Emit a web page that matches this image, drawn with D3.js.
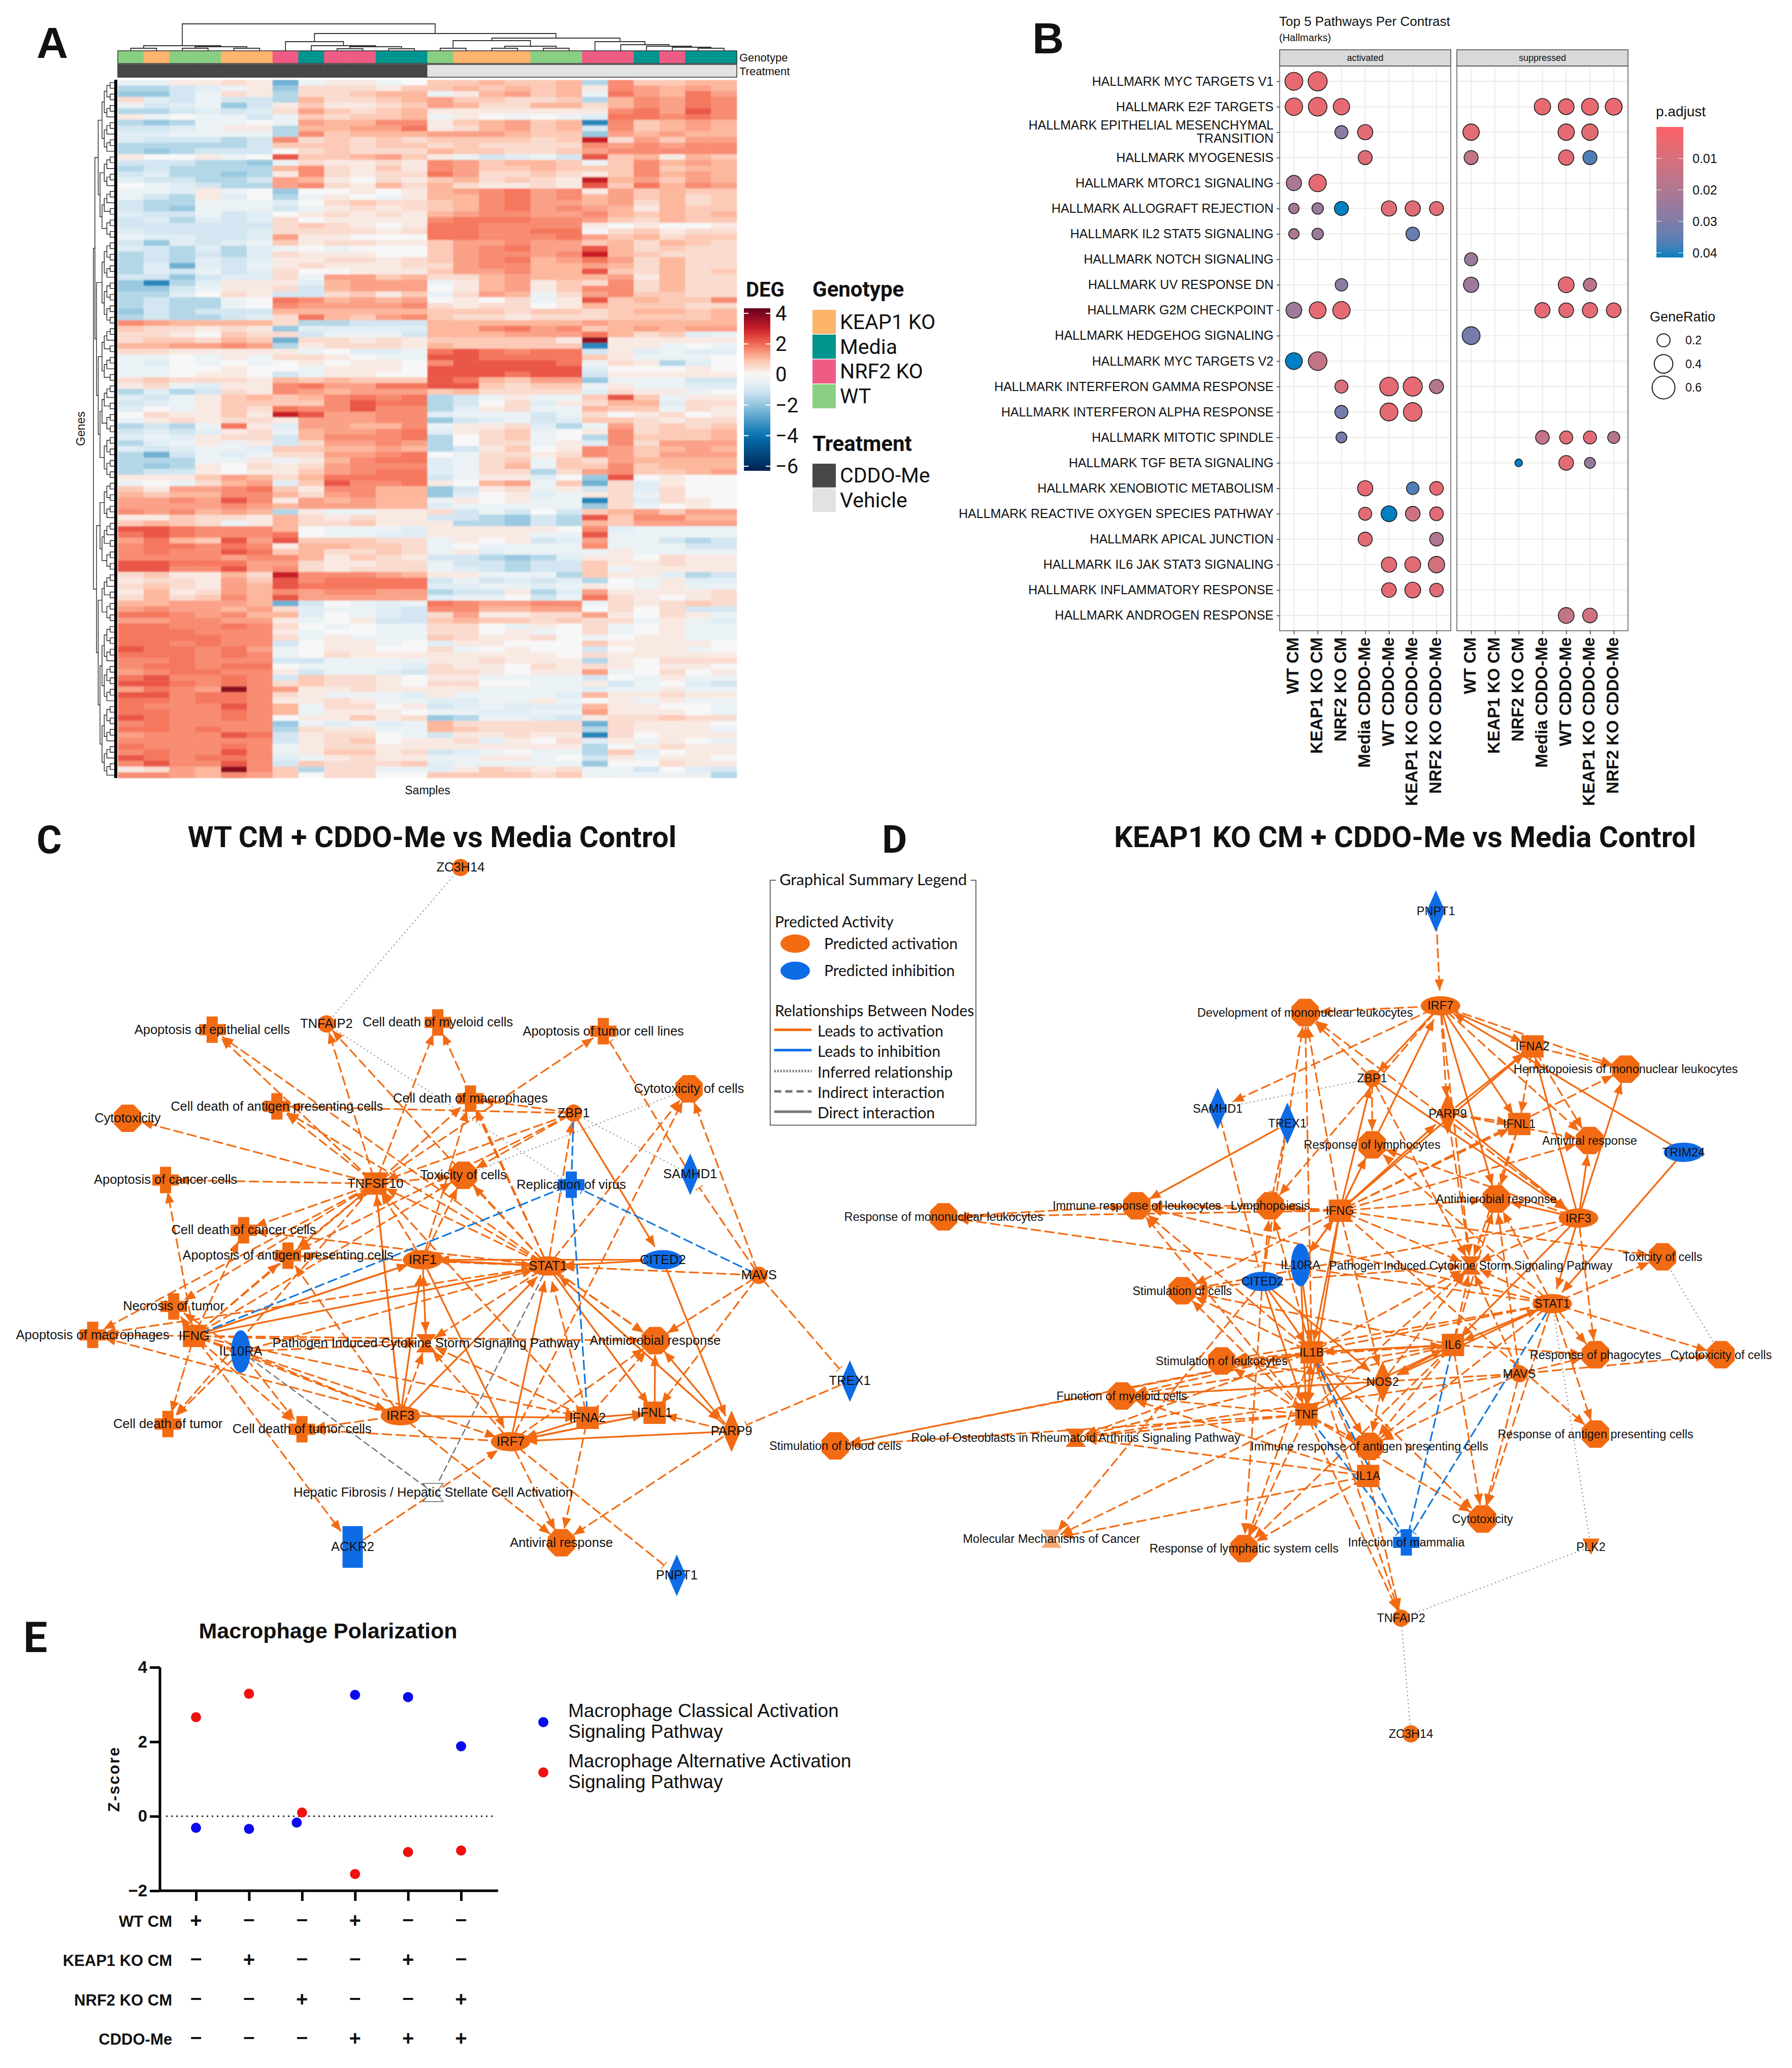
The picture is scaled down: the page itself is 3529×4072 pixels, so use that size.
<!DOCTYPE html>
<html><head><meta charset="utf-8">
<script src="https://cdnjs.cloudflare.com/ajax/libs/d3/7.8.5/d3.min.js"></script>
<style>html,body{margin:0;padding:0;background:#fff}svg{display:block}text{font-family:"Liberation Sans",Arial,sans-serif;fill:#111}</style>
</head><body><svg id="c" width="3529" height="4072" viewBox="0 0 3529 4072"></svg>
<script>
// ---------- PANEL A data ----------
const genotypeNames=["KEAP1 KO","Media","NRF2 KO","WT"];
const genotypeColors=["#FDB46B","#00948F","#EE5C85","#88CF84"];
const treatmentNames=["CDDO-Me","Vehicle"];
const treatmentColors=["#474747","#E2E2E2"];
const sampleGenotype=["WT","KEAP1 KO","WT","WT","KEAP1 KO","KEAP1 KO","NRF2 KO","Media","NRF2 KO","NRF2 KO","Media","Media","WT","KEAP1 KO","KEAP1 KO","KEAP1 KO","WT","WT","NRF2 KO","NRF2 KO","Media","NRF2 KO","Media","Media"];
const sampleTreatment=d3.range(24).map(i=>i<12?"CDDO-Me":"Vehicle");
// expression level codes, one letter per sample
const levelCodes="abcdefghijklmnopqrs".split("");
const levelValues=[-5,-3.5,-2.5,-1.9,-1.5,-1.05,-.7,-.35,0,.25,.5,.8,1.1,1.35,1.6,1.85,2.25,3,3.8];
const heatRows=[
"hhjjkj c hjjhi llmllm e ollmm","eefghj d kkkjl lmlmlm j onmnm","ddfhkj e kklmm hjmnlm h pnmpn","kgfhff e mkklm nllkkl e monpo",
"hfghdf j ljjkl nmkkmm k monpo","eefgfg k nlklm jjjjjj j opnqo","jhihhf h lkllm hjihih g ppopo","edehhi h nmmoo jlmnlm b olmnm",
"ffghjj e mmnnp jkmnlm f olmnm","gghhhh e olmmm nnnmll d nmnmm","gfffef o klklk llllkl r knlnn","eeeeef l llkll klkkkk o nonoo",
"edefff i klkkk mllkkl n ooooo","jiijhi q llmnl jhfghf q lmjml","fffeed h kjjkj onlmml h lomnm","efeeee m okjlj onllml l lolmm",
"fgeede j okjkk pnkklk j lomnm","gffeef n mjikj lmklkj r mnlnm","ihgfee n okjmk mkjjkj q lpmon","hhgjhi d iijij mnopno j nlmll",
"hfejgi e hjihj mmopno m nlmkl","feehhh g iklkk lmopnn m nkmkl","fedhhh f hjkjk lmopno n mjmll","gffhfg i jkjkj mnoonn o mlmlm",
"fgegfg k ijjjj opppoo n lkmll","ffffff k lkjij ppoooo j ijiij","gffffg k kkkjk ppoopp i kljkk","hggffg n jjiii ppooop n lmkll",
"fdgfgh l jkkjj lnnonn l mkmlk","gfegeg h ihiii lnopnn q mklkk","efefeg k jjjii lnoono r mlkkk",
"efegfg j jkkjk lnopmn p nkmkk","egcgfh j kjjjk knoomm n mkmkk","egfhfg k iijjj lnnomm q lkmkl","ffdfgg k hnnlm kkmnmm m njmkk",
"dbegjj j gmnnn hjmnjl k okmkk","ddfhjj k fmnnn ijmnjl o okmkk","eegikj f fkljl hknmhk n ollkk","efeehi p omnmn ijikhj q lmllo",
"efeehi o nnnno kjkkij m lllkk","dfefff m mmmmm lllkll k lmmlm","efeefg k pmlno lkkjkk k lllIm".replace("I","l"),"onmmmm k eefff mmmmmm n mmmmm",
"lkkjkj d ggggg mmopno l mnmnn","kkjilk k fhhhf mmmnnn p mklgh","kllkml c kkjkj llllIj s jjjjj".replace("I","l"),"mmnnon e jkkkj mlllll b jjhih",
"kkjjjj j higgh pqpopp f jghgg","hhihjh k kjihh qqpppp l jhhhi","hgihih i jijji oqqqqp h kjegi","hhiiji i hjjji qqqqqq g iiiji",
"hhijji f hjjii qqqpqq f jjjjj","klkkkj m lmlll qpmlnn d hhhff","jkhgjj o pnnpp qqlkll h jhhgg","egefkj o nmnnn lmkkkk g kjjhi",
"gfhjlm l mopop efhjhh l qlhjj","fghjll l loqpp efikgj k mmgkk","gihjlk p ooqoo egjkhh m llhkj","ikjjlj r qnnoo ghhhfh k ijkij",
"hjkjkk j nnnoo dfghfg l lkjkk","efehpj g nnmmo hjjkge h nklkl","fgfgjk h mnnop gjklhi j okllm","ghgjkk f mooop eiklhi e olllm",
"eghjhj f knnon eikkhj g oknnn","gfghhg l lmmnm efjlij o nlmnm","ecfhgh k knnop ihkkjk o nlnnn","eeehhj h jmopp ghklhl k nmmmm",
"edejik j knooo ghkmhl l olmmm","effjij j lnopp ghkkek n ollmn","jjjlnm k mpppp fhjjgi d qijii","hihkmn g lqoop jimnhl c kgjii",
"ljnnop l joomm dfjkhj f kgkii","mlmmoo m knomm dgijgh j khkii","nnonqo j nmnmm hjijhh b kgkji","nnnnon m nnnmm ghhhhh d khiji",
"onomnm e jhhjj kfhfif l mnlnn","jjlkkj m kjkjj ffedfe q loomm","lmlkhj m kkljj jeedfe m lnnnn","qqpooo m ihhhg jjjjji o ghhhh",
"pqpooo p ihhgg jjjjhh q hhhhh","npmlqn q lllkk hjijfg n hhfef","oppopo j mmllk hihhhh o hhhff","opooqp l mkklk hjghhh h jhhhh",
"oooono o mjlkj ffedeg j jikjj","qqpppn n kjjkk hffeff l jjkjj","qqooqn o kjkkk hgfeff l hjjjj","kljjmk r ooonm jjhhhe l jjgef",
"jkkjnl q opppp fhfgfg e ihjgg","klkjnm q ppppp gghhgh j ihjhh","jmjknm o noonn effjeg n jjjjk","kmklom q nnnnn ghhifh p kjijk",
"mmnnnm c fihgh ponnoo h kjklk","nonnmn k ghhgf oommnn i kikff","pponom m gihgf knjjkk n jikjh","nnoonn j hijff lmllkl k khjhg",
"ppoopo k ihihh kkihji k hijhh","pppooo j hiihh kkijhi k hijhh","ppppoo k hjhhh lkjjki h ijjhh","ppopoo f ijjhi gjjiii l jjjji",
"qppopn h ijjii khijii f ijjhi","pppopo h ikjjj jjjjji k jjjjj","oopooo f fhhhh jjkjjj e jikkk","oppopp i hhhhg kjjikj k jijji",
"noppoo j fhhgf kkjijj n hikij","pqoopo f lkkji jjhhhh f ihjhh","qqpopo k lkkji kkiihh j fhigf","nponso n jjkjj jjhhhh g hhjhh",
"qqoppo k jhhhg jhhhhg m jjkjj","ppoppo j jkjhh gghhjh i jhjhh","poooqo m hkkij fghggg m jjiih","ppoopo m hjjji hhgghh n jjjih",
"qpoopo i jjljk dehhgf j kklkk","opoooo d hghgh mkkkkk c kjjji","ppopoo e kjjhh mlkkkk e kjjjh","noooqp f jkkih fjjkjj b kijjj",
"oooooo f jklij jkgjik g jhjih","pooopo h jkkjj jjjjjj e ijkjj","opooqo h jlljk fghihh e lgijj","qpoppo g hjkjj hhjjhi f jhjji",
"oqooqo f lkkkl ghhhhh d iikjj","jknmso l ekkhh gjlkjk h hfigf","oonmon l ikkii llllkl h hhhhe"
].map(r=>r.replace(/\s/g,""));
const legendTicks=[4,2,0,-2,-4,-6];
const colTree=[53,[10,[5,0,1],[8,[5,2,3],[5,4,5]]],[34,[18,6,[10,7,[8,[4,8,9],[4,10,11]]]],[25,[20,[5,12,13],[9,[5,14,15],[5,16,17]]],[18,18,[12,19,[9,20,[7,21,[5,22,23]]]]]]]];
const rowClusters=[[[[[0,7],[7,13]],[[13,19],[19,28]]],[[[28,35],[35,43]],[[43,53],[53,70]]]],[[[70,77],[77,86]],[[86,95],[95,122]]]];

// ---------- PANEL B data ----------
const pathways=["HALLMARK MYC TARGETS V1","HALLMARK E2F TARGETS","HALLMARK EPITHELIAL MESENCHYMAL\nTRANSITION","HALLMARK MYOGENESIS","HALLMARK MTORC1 SIGNALING","HALLMARK ALLOGRAFT REJECTION","HALLMARK IL2 STAT5 SIGNALING","HALLMARK NOTCH SIGNALING","HALLMARK UV RESPONSE DN","HALLMARK G2M CHECKPOINT","HALLMARK HEDGEHOG SIGNALING","HALLMARK MYC TARGETS V2","HALLMARK INTERFERON GAMMA RESPONSE","HALLMARK INTERFERON ALPHA RESPONSE","HALLMARK MITOTIC SPINDLE","HALLMARK TGF BETA SIGNALING","HALLMARK XENOBIOTIC METABOLISM","HALLMARK REACTIVE OXYGEN SPECIES PATHWAY","HALLMARK APICAL JUNCTION","HALLMARK IL6 JAK STAT3 SIGNALING","HALLMARK INFLAMMATORY RESPONSE","HALLMARK ANDROGEN RESPONSE"];
const contrasts=["WT CM","KEAP1 KO CM","NRF2 KO CM","Media CDDO-Me","WT CDDO-Me","KEAP1 KO CDDO-Me","NRF2 KO CDDO-Me"];
const facets=["activated","suppressed"];
// [pathway index, facet index, contrast index, p.adjust, GeneRatio]
const enrichment=[[0,0,0,.005,.37],[0,0,1,.005,.42],
[1,0,0,.005,.35],[1,0,1,.005,.40],[1,0,2,.006,.31],[1,1,3,.005,.31],[1,1,4,.005,.29],[1,1,5,.005,.33],[1,1,6,.005,.33],
[2,0,2,.028,.20],[2,0,3,.007,.27],[2,1,0,.007,.31],[2,1,4,.006,.31],[2,1,5,.007,.31],
[3,0,3,.008,.23],[3,1,0,.015,.23],[3,1,4,.006,.27],[3,1,5,.037,.23],
[4,0,0,.021,.27],[4,0,1,.006,.35],
[5,0,0,.022,.127],[5,0,1,.025,.155],[5,0,2,.043,.23],[5,0,4,.007,.27],[5,0,5,.007,.27],[5,0,6,.007,.23],
[6,0,0,.020,.127],[6,0,1,.024,.155],[6,0,5,.034,.217],
[7,1,0,.024,.20],
[8,0,2,.028,.184],[8,1,0,.024,.27],[8,1,4,.006,.29],[8,1,5,.017,.20],
[9,0,0,.024,.29],[9,0,1,.006,.33],[9,0,2,.006,.35],[9,1,3,.006,.27],[9,1,4,.006,.25],[9,1,5,.006,.27],[9,1,6,.006,.25],
[10,1,0,.032,.37],
[11,0,0,.043,.33],[11,0,1,.015,.40],
[12,0,2,.009,.20],[12,0,4,.006,.40],[12,0,5,.006,.42],[12,0,6,.019,.23],
[13,0,2,.032,.20],[13,0,4,.006,.37],[13,0,5,.006,.40],
[14,0,2,.032,.14],[14,1,3,.015,.217],[14,1,4,.007,.20],[14,1,5,.007,.20],[14,1,6,.019,.17],
[15,1,2,.043,.07],[15,1,4,.007,.25],[15,1,5,.026,.14],
[16,0,3,.006,.27],[16,0,5,.037,.184],[16,0,6,.006,.217],
[17,0,3,.007,.20],[17,0,4,.042,.29],[17,0,5,.012,.25],[17,0,6,.007,.217],
[18,0,3,.007,.23],[18,0,6,.020,.217],
[19,0,4,.007,.27],[19,0,5,.007,.29],[19,0,6,.011,.31],
[20,0,4,.006,.25],[20,0,5,.006,.29],[20,0,6,.007,.217],
[21,1,4,.015,.29],[21,1,5,.012,.25]];
const pTicks=[.01,.02,.03,.04];
const ratioLegend=[.2,.4,.6];

// ---------- PANEL C / D network data (layout units) ----------
const cNodes=[["ZC","ZC3H14",790,106,"c",0],["TNFA","TNFAIP2",560,408,"c",0],["AEp","Apoptosis of epithelial cells",364,419,"x",0],["CDMy","Cell death of myeloid cells",751,405,"x",0],["ATu","Apoptosis of tumor cell lines",1035,422,"x",0],["CyC","Cytotoxicity of cells",1182,533,"o",0],["CDMa","Cell death of macrophages",807,552,"x",0],["ZBP","ZBP1",984,580,"c",0],["CDAg","Cell death of antigen presenting cells",475,567,"x",0],["Cyt","Cytotoxicity",219,590,"o",0],["ACa","Apoptosis of cancer cells",284,709,"x",0],["TNFS","TNFSF10",644,716,"s",0],["Tox","Toxicity of cells",795,700,"o",0],["Rep","Replication of virus",980,718,"x",1],["SAM","SAMHD1",1184,698,"d",1],["CDCa","Cell death of cancer cells",418,806,"x",0],["AAg","Apoptosis of antigen presenting cells",494,855,"x",0],["IRF1","IRF1",725,863,"e",0],["STAT","STAT1",940,875,"e",0],["CIT","CITED2",1137,863,"e",1],["MAVS","MAVS",1302,893,"c",0],["Nec","Necrosis of tumor",298,953,"x",0],["AMa","Apoptosis of macrophages",159,1008,"x",0],["IFNG","IFNG",333,1010,"s",0],["IL10","IL10RA",413,1040,"t",1],["Path","Pathogen Induced Cytokine Storm Signaling Pathway",731,1024,"h",0],["Anti","Antimicrobial response",1124,1019,"o",0],["TREX","TREX1",1458,1097,"d",1],["CDT","Cell death of tumor",288,1180,"x",0],["CDTC","Cell death of tumor cells",518,1190,"x",0],["IRF3","IRF3",687,1164,"e",0],["IFNA","IFNA2",1008,1168,"s",0],["IFNL","IFNL1",1123,1158,"s",0],["IRF7","IRF7",876,1214,"e",0],["PARP","PARP9",1255,1194,"d",0],["Hep","Hepatic Fibrosis / Hepatic Stellate Cell Activation",743,1312,"h",2],["ACK","ACKR2",605,1417,"r",1],["AV","Antiviral response",963,1409,"o",0],["PN","PNPT1",1161,1472,"d",1]];
const cSolid="IFNG>STAT IFNG>IRF1 IFNG>IRF1 IRF1>STAT STAT>IRF1 CIT>IRF1 CIT>STAT IRF3>STAT IRF3>IRF1 IRF3>TNFS IRF1>IRF7 IRF7>STAT IRF3>IFNA IFNA>IRF7 IFNL>IRF7 PARP>IRF7 IFNA>IFNL STAT>PARP ZBP>CIT CIT>PARP STAT>IFNL IRF7>IFNL IFNL>Anti".split(" ");
const cDash="TNFS>AEp TNFS>TNFA TNFS>CDMy TNFS>CDMa TNFS>Cyt TNFS>CDAg TNFS>ACa TNFS>CDCa TNFS>AAg TNFS>ATu TNFS>Tox TNFS>Nec TNFS>AMa TNFS>CDT ZBP>CDMa ZBP>CDAg ZBP>Tox ZBP>TNFS ZBP>AAg STAT>TNFS STAT>CDMy STAT>CDMa STAT>Tox STAT>AEp STAT>CDAg STAT>CDCa STAT>AAg STAT>Path STAT>Anti STAT>Anti STAT>AMa STAT>TNFA STAT>CyC STAT>ZBP STAT>Anti IRF1>TNFS IRF1>Tox IRF1>Path IRF1>CDMa Path>IRF1 IFNG>AMa IFNG>Nec IFNG>ACa IFNG>CDT IFNG>CDCa IFNG>AAg IFNG>Path IFNG>TNFS IFNG>Tox IFNG>CDTC IFNG>Anti IFNG>IRF3 IFNG>IRF7 IFNG>IFNA IL10>IRF3 IL10>CDTC IL10>CDT IL10>Path IL10>Nec IL10>STAT IRF3>TNFS IRF3>Path IRF3>AAg IRF3>AV IRF3>CDTC IRF3>AMa IRF7>Path IRF7>Anti IRF7>AV IRF7>CDTC IRF7>CyC IFNA>Path IFNA>Anti IFNA>STAT IFNA>AV IFNA>TNFS MAVS>STAT MAVS>Anti MAVS>IFNL MAVS>CyC PARP>Anti PARP>AV PARP>STAT Anti>PARP PARP>IFNL ACK>IRF7 IFNG>ACK".split(" ");
const cBar="MAVS>TREX TREX>PARP MAVS>SAM SAM>ATu IRF7>PN".split(" ");
const cBlue="ZBP>Rep IFNG>Rep MAVS>Rep IFNA>Rep".split(" ");
const cGrey="IL10>Hep STAT>Hep".split(" ");
const cDot="ZC-TNFA TNFA-Rep ZBP-SAM Tox-CyC IFNG-CDT".split(" ");

const dNodes=[["PN","PNPT1",1026,160,"d",1],["IRF7","IRF7",1033,314,"e",0],["Dev","Development of mononuclear leukocytes",827,325,"o",0],["IFNA","IFNA2",1173,380,"s",0],["Hem","Hematopoiesis of mononuclear leukocytes",1315,417,"o",0],["ZBP","ZBP1",929,432,"c",0],["SAM","SAMHD1",694,481,"d",1],["PARP","PARP9",1044,489,"d",0],["TREX","TREX1",800,505,"d",1],["IFNL","IFNL1",1153,506,"s",0],["RLy","Response of lymphocytes",929,540,"o",0],["AV","Antiviral response",1260,533,"o",0],["TRIM","TRIM24",1403,552,"e",1],["RMo","Response of mononuclear leukocytes",277,657,"o",0],["IRL","Immune response of leukocytes",571,639,"o",0],["Lym","Lymphopoiesis",774,639,"o",0],["IFNG","IFNG",880,647,"s",0],["Anti","Antimicrobial response",1118,628,"o",0],["IRF3","IRF3",1243,659,"e",0],["IL10","IL10RA",820,735,"t",1],["Path","Pathogen Induced Cytokine Storm Signaling Pathway",1079,736,"h",0],["Tox","Toxicity of cells",1371,722,"o",0],["CIT","CITED2",762,762,"e",1],["SC","Stimulation of cells",640,777,"o",0],["STAT","STAT1",1203,798,"e",0],["IL1B","IL1B",837,877,"s",0],["IL6","IL6",1052,865,"s",0],["SL","Stimulation of leukocytes",700,891,"o",0],["RPh","Response of phagocytes",1269,881,"o",0],["CyC","Cytotoxicity of cells",1460,881,"o",0],["MAVS","MAVS",1153,912,"c",0],["NOS","NOS2",945,925,"d",0],["FM","Function of myeloid cells",548,948,"o",0],["TNF","TNF",829,978,"s",0],["SB","Stimulation of blood cells",112,1029,"o",0],["Oste","Role of Osteoblasts in Rheumatoid Arthritis Signaling Pathway",478,1016,"h",0],["IRA","Immune response of antigen presenting cells",925,1030,"o",0],["RAg","Response of antigen presenting cells",1269,1010,"o",0],["IL1A","IL1A",923,1078,"s",0],["Cyt","Cytotoxicity",1097,1148,"o",0],["Mol","Molecular Mechanisms of Cancer",441,1180,"h",3],["RLs","Response of lymphatic system cells",734,1196,"o",0],["Inf","Infection of mammalia",981,1186,"x",1],["PLK","PLK2",1262,1193,"v",0],["TNFA","TNFAIP2",973,1309,"c",0],["ZC","ZC3H14",988,1497,"c",0]];
const dSolid="IRF7>IFNL IRF7>Anti IRF7>ZBP IRF7>IFNA TRIM>IRF7 TRIM>STAT IRF3>Hem IRF3>IFNA IRF3>Anti IRF3>AV IRF3>STAT IRF3>IL6 IFNG>IRF7 TREX>IRL IL10>IFNG IFNG>IL10 IFNG>ZBP CIT>IL1B CIT>NOS CIT>TNF IL10>IL1B IFNG>IL1B IFNG>PARP IFNG>IFNA IL6>STAT STAT>IL6 IL1B>IL6 TNF>IL6 STAT>NOS IL6>NOS IFNG>TNF IL10>TNF IL1B>TNF TNF>IL1B IL1B>IRA PARP>IRF3 PARP>IFNA ZBP>IRF3".split(" ");
const dDash="PN>IRF7 IRF7>Dev IRF7>Hem IRF7>PARP IRF7>AV IRF7>SAM IRF7>Path IRF7>Lym ZBP>Dev ZBP>Path ZBP>RLy IFNG>RMo IFNG>IRL IFNG>Lym IFNG>RLy IFNG>Anti IFNG>Dev IFNG>Path IFNG>AV IFNG>Tox IFNG>RAg IFNG>SC IFNG>NOS IFNG>IFNL IFNG>Hem STAT>RMo STAT>RLy STAT>Anti STAT>Path STAT>SL STAT>SB STAT>IRA STAT>Cyt STAT>RPh STAT>CyC STAT>RAg STAT>Tox STAT>IRL IRF3>Path IRF3>RLy IRF3>RPh IRF3>SC IRF3>Dev IFNL>Anti IFNL>Path IFNA>Hem IFNA>AV IFNA>IFNL PARP>AV PARP>Path PARP>IFNL IL1B>SC IL1B>IRL IL1B>SL IL1B>FM IL1B>SB IL1B>Oste IL1B>RLs IL1B>IRA IL1B>Cyt IL1B>TNFA IL1B>Path IL1B>Lym IL1B>Dev TNF>SC TNF>IRL TNF>SL TNF>FM TNF>SB TNF>Oste TNF>Mol TNF>RLs TNF>IRA TNF>Cyt TNF>TNFA TNF>Path IL6>SC IL6>SL IL6>FM IL6>Oste IL6>RLs IL6>IRA IL6>Cyt IL6>RPh IL6>Path IL6>Anti IL6>IL1B NOS>SL NOS>IRA NOS>Path NOS>FM MAVS>FM MAVS>Oste MAVS>IRA MAVS>RPh MAVS>Path MAVS>Anti MAVS>Cyt MAVS>CyC IL1A>FM IL1A>Oste IL1A>Mol IL1A>RLs IL1A>IRA IL1A>TNFA IL1A>IL1B CIT>Path CIT>SC CIT>Mol CIT>Lym CIT>RLs CIT>Dev RMo>IRL Lym>IRL".split(" ");
const dBar="SAM>CIT TREX>Lym".split(" ");
const dBlue="TNF>Inf IL1B>Inf IL6>Inf STAT>Inf".split(" ");
const dDot="SAM-ZBP Tox-CyC STAT-PLK PLK-TNFA TNFA-ZC".split(" ");
const legendPredicted=["Predicted activation","Predicted inhibition"];
const legendRelations=["Leads to activation","Leads to inhibition","Inferred relationship","Indirect interaction","Direct interaction"];

// ---------- PANEL E data ----------
const eCategoryX=[1,2,3,4,5,6];
const classicalX=[1,2,2.9,4,5,6];
const classicalZ=[-.31,-.34,-.17,3.26,3.2,1.88];
const alternativeX=[1,2,3,4,5,6];
const alternativeZ=[2.66,3.29,.1,-1.55,-.96,-.92];
const eTableRows=["WT CM","KEAP1 KO CM","NRF2 KO CM","CDDO-Me"];
const eTableSigns=["+--+--","-+--+-","--+--+","---+++"];
const eLegend=[["Macrophage Classical Activation","Signaling Pathway"],["Macrophage Alternative Activation","Signaling Pathway"]];
const panelLetters=["A","B","C","D","E"];

// ==================== DRAW ====================
const svg=d3.select("#c");
const BOLD='"Roboto","Liberation Sans",sans-serif', LATO='"Lato","Liberation Sans",sans-serif';
const txt=(g,x,y,s,o={})=>{const t=g.append("text").attr("x",x).attr("y",y).text(s).attr("font-size",o.size||22);
 if(o.anchor)t.attr("text-anchor",o.anchor); if(o.weight)t.attr("font-weight",o.weight); if(o.family)t.style("font-family",o.family);
 if(o.baseline)t.attr("dominant-baseline",o.baseline); if(o.ls)t.attr("letter-spacing",o.ls); if(o.rot!=null)t.attr("transform",`rotate(${o.rot} ${x} ${y})`); if(o.fill)t.style("fill",o.fill); return t;};
const defs=svg.append("defs");

// letters
const letterX=d3.scaleOrdinal(panelLetters,[72,2033,72,1737,46]);
const letterY=d3.scaleOrdinal(panelLetters,[114,105,1680,1679,3253]);
panelLetters.forEach(l=>txt(svg,letterX(l),letterY(l),l,{size:l<"C"?86:(l=="E"?84:76),weight:700,family:l<"C"?'"Liberation Sans"':BOLD}));

// ---- A ----
const A=svg.append("g");
const hx=d3.scaleBand(d3.range(24),[232,1451]);
const hy=d3.scaleBand(d3.range(heatRows.length),[157,1532]);
const heatColor=d3.scaleLinear([-6.3,-4,-2,-1,0,1,2,3,4.3],["#00214f","#0571b0","#92c5de","#d6e8f2","#f7f7f7","#fdbfa6","#f46a50","#c81e28","#67001f"]).clamp(true);
const genoColor=d3.scaleOrdinal(genotypeNames,genotypeColors), treatColor=d3.scaleOrdinal(treatmentNames,treatmentColors);
const lev=Object.fromEntries(levelCodes.map((c,i)=>[c,levelValues[i]]));
const soft=defs.append("filter").attr("id","soft").attr("x",0).attr("y",0).attr("width",1).attr("height",1);
soft.append("feGaussianBlur").attr("stdDeviation","0.8 1.8").attr("edgeMode","duplicate");
const hm=A.append("g").attr("filter","url(#soft)");
heatRows.forEach((r,ri)=>{hm.selectAll(null).data(r.split("").slice(0,24)).join("rect").attr("x",(d,i)=>hx(i)).attr("y",hy(ri)).attr("width",hx.bandwidth()+.5).attr("height",hy.bandwidth()+.5).attr("fill",d=>heatColor(lev[d]));});
A.selectAll(null).data(sampleGenotype).join("rect").attr("x",(d,i)=>hx(i)).attr("y",100).attr("width",hx.bandwidth()+.5).attr("height",25).attr("fill",d=>genoColor(d));
A.selectAll(null).data(sampleTreatment).join("rect").attr("x",(d,i)=>hx(i)).attr("y",127).attr("width",hx.bandwidth()+.5).attr("height",25).attr("fill",d=>treatColor(d));
[[100,25],[127,25]].forEach(([y,h])=>A.append("rect").attr("x",232).attr("y",y).attr("width",1219).attr("height",h).attr("fill","none").attr("stroke","#333").attr("stroke-width",1.5));
txt(A,1456,121,"Genotype",{size:22});txt(A,1456,148,"Treatment",{size:22});
txt(A,842,1564,"Samples",{size:23,anchor:"middle"});
txt(A,167,844,"Genes",{size:23,anchor:"middle",rot:-90});
// column dendrogram
const dy=d3.scaleLinear([0,53],[100,47]);
(function tree(n,g){ if(typeof n=="number")return {x:hx(n)+hx.bandwidth()/2,h:0};
 const l=tree(n[1],g),r=tree(n[2],g),h=n[0];
 g.append("path").attr("d",`M${l.x},${dy(l.h)}V${dy(h)}H${r.x}V${dy(r.h)}`).attr("fill","none").attr("stroke","#333").attr("stroke-width",1.8);
 return {x:(l.x+r.x)/2,h};})(colTree,A);
// row dendrogram
const split=(lo,hi)=>hi-lo<=1?lo:[split(lo,lo+Math.ceil((hi-lo)/2)),split(lo+Math.ceil((hi-lo)/2),hi)];
const expand=n=>(n.length==2&&typeof n[0]=="number")?split(n[0],n[1]):n.map(expand);
const rootR=d3.hierarchy(expand(rowClusters),d=>typeof d=="number"?null:d);
const rx=d3.scalePow().exponent(.55).domain([0,rootR.height]).range([231,184]);
(function walk(n){ if(!n.children)return {y:hy(n.data)+hy.bandwidth()/2,h:0};
 const a=walk(n.children[0]),b=walk(n.children[1]),h=n.height;
 A.append("path").attr("d",`M${rx(a.h)},${a.y}H${rx(h)}V${b.y}H${rx(b.h)}`).attr("fill","none").attr("stroke","#222").attr("stroke-width",1.4);
 return {y:(a.y+b.y)/2,h};})(rootR);
A.append("rect").attr("x",225).attr("y",157).attr("width",6).attr("height",1375).attr("fill","#000");
// colour legend
const by=d3.scaleLinear([4.33,-6.3],[607,927]);
const lg=defs.append("linearGradient").attr("id","deg").attr("x1",0).attr("x2",0).attr("y1",0).attr("y2",1);
d3.range(0,1.001,.04).forEach(t=>lg.append("stop").attr("offset",t).attr("stop-color",heatColor(by.invert(607+320*t))));
txt(A,1469,584,"DEG",{size:40,weight:700,family:BOLD});
A.append("rect").attr("x",1465).attr("y",607).attr("width",52).attr("height",320).attr("fill","url(#deg)");
legendTicks.forEach(v=>{A.append("path").attr("d",`M1465,${by(v)}h9M1508,${by(v)}h9`).attr("stroke","#fff").attr("stroke-width",2);
 txt(A,1527,by(v)+14,String(v).replace("-","\u2212"),{size:40,family:BOLD});});
const genoY=d3.scaleBand(genotypeNames,[610,804]).paddingInner(.03), trY=d3.scaleBand(treatmentNames,[913,1008]).paddingInner(.03);
txt(A,1600,584,"Genotype",{size:42,weight:700,family:BOLD});txt(A,1600,888,"Treatment",{size:42,weight:700,family:BOLD});
[[genotypeNames,genoY,genoColor],[treatmentNames,trY,treatColor]].forEach(([n,sc,col])=>n.forEach(k=>{
 A.append("rect").attr("x",1600).attr("y",sc(k)).attr("width",46).attr("height",sc.bandwidth()).attr("fill",col(k));
 txt(A,1654,sc(k)+sc.bandwidth()/2+14,k,{size:41,family:BOLD});}));

// ---- B ----
const B=svg.append("g");
txt(B,2519,51,"Top 5 Pathways Per Contrast",{size:26});txt(B,2519,81,"(Hallmarks)",{size:20});
const panelX=d3.scaleOrdinal(facets,[2520,2869]), panelW=337, pTop=130, pBot=1242;
const py=d3.scalePoint(pathways,[pTop,pBot]).padding(.6);
const pColor=d3.scaleLinear([0,.0415],["#fb6266","#0580c0"]).interpolate(d3.interpolateLab);
const pSize=d3.scaleSqrt([.07,.6],[7.5,22.5]);
facets.forEach((f,fi)=>{const g=B.append("g");const x0=panelX(f);
 const px=d3.scalePoint(contrasts,[x0,x0+panelW]).padding(.6);
 g.append("rect").attr("x",x0).attr("y",98).attr("width",panelW).attr("height",32).attr("fill","#d9d9d9").attr("stroke","#444").attr("stroke-width",1.5);
 txt(g,x0+panelW/2,120,f,{size:18,anchor:"middle"});
 g.selectAll(null).data(pathways).join("line").attr("x1",x0).attr("x2",x0+panelW).attr("y1",d=>py(d)).attr("y2",d=>py(d)).attr("stroke","#ebebeb").attr("stroke-width",2);
 g.selectAll(null).data(contrasts).join("line").attr("y1",pTop).attr("y2",pBot).attr("x1",d=>px(d)).attr("x2",d=>px(d)).attr("stroke","#ebebeb").attr("stroke-width",2);
 g.selectAll(null).data(enrichment.filter(d=>d[1]==fi)).join("circle").attr("cx",d=>px(contrasts[d[2]])).attr("cy",d=>py(pathways[d[0]])).attr("r",d=>pSize(d[4])).attr("fill",d=>pColor(d[3])).attr("stroke","#1a1a1a").attr("stroke-width",1.6);
 g.append("rect").attr("x",x0).attr("y",pTop).attr("width",panelW).attr("height",pBot-pTop).attr("fill","none").attr("stroke","#555").attr("stroke-width",1.5);
 const ax=g.append("g").attr("transform",`translate(0,${pBot})`).call(d3.axisBottom(px).tickSize(7).tickPadding(6));
 ax.select(".domain").remove();
 ax.selectAll("text").attr("font-size",33).attr("font-weight",700).style("text-anchor","end").attr("dy",0).attr("dominant-baseline","middle").attr("transform","rotate(-90)").attr("x",-13).attr("y",0);
 ax.selectAll("line").attr("stroke","#333").attr("stroke-width",1.5);
});
const yAx=B.append("g").attr("transform","translate(2520,0)").call(d3.axisLeft(py).tickSize(6).tickPadding(6));
yAx.select(".domain").remove();yAx.selectAll("line").attr("stroke","#333").attr("stroke-width",1.5);
yAx.selectAll("text").attr("font-size",25).each(function(d){const p=d.split("\n");if(p.length>1){const t=d3.select(this).text(null);t.attr("dy",null);
 p.forEach((s,i)=>t.append("tspan").attr("x",-12).attr("y",i?14:-12).attr("dominant-baseline","middle").text(s));}});
txt(B,3261,229,"p.adjust",{size:28});
const pbar=d3.scaleLinear([0,.0415],[250,507]);
const lg2=defs.append("linearGradient").attr("id","padj").attr("x1",0).attr("x2",0).attr("y1",0).attr("y2",1);
d3.range(0,1.001,.1).forEach(t=>lg2.append("stop").attr("offset",t).attr("stop-color",pColor(t*.0415)));
B.append("rect").attr("x",3262).attr("y",250).attr("width",53).attr("height",257).attr("fill","url(#padj)");
pTicks.forEach(v=>{B.append("path").attr("d",`M3262,${pbar(v)}h10M3305,${pbar(v)}h10`).attr("stroke","#fff").attr("stroke-opacity",.6).attr("stroke-width",1.5);
 txt(B,3333,pbar(v)+9,v.toFixed(2),{size:25});});
txt(B,3249,633,"GeneRatio",{size:27});
const gy=d3.scalePoint(ratioLegend,[670,763]);
ratioLegend.forEach(v=>{B.append("circle").attr("cx",3276).attr("cy",gy(v)).attr("r",pSize(v)).attr("fill","#fff").attr("stroke","#1a1a1a").attr("stroke-width",2);
 txt(B,3319,gy(v)+8,v.toFixed(1),{size:23});});

// ---- networks ----
const ORANGE="#F26B12",BLUE="#0E6BE6",EDGEB="#1478DC",GREY="#777";
const fills=[ORANGE,BLUE,"#fff","#F7A873"];
const shapeR={c:17,o:28,x:24,s:22,e:30,t:30,d:32,r:38,h:20,v:16};
const shapePath=k=>{switch(k){
 case "c":return "M17,0A17,17 0 1 1 -17,0A17,17 0 1 1 17,0Z";
 case "o":{const a=27,b=11.5;return `M${-b},${-a}L${b},${-a}L${a},${-b}L${a},${b}L${b},${a}L${-b},${a}L${-a},${b}L${-a},${-b}Z`;}
 case "x":{const a=26,b=11;return `M${-b},${-a}H${b}V${-b}H${a}V${b}H${b}V${a}H${-b}V${b}H${-a}V${-b}H${-b}Z`;}
 case "s":return "M-22,-22H22V22H-22Z";
 case "e":return "M39,0A39,19 0 1 1 -39,0A39,19 0 1 1 39,0Z";
 case "t":return "M19,0A19,42 0 1 1 -19,0A19,42 0 1 1 19,0Z";
 case "d":return "M0,-41L18,0L0,41L-18,0Z";
 case "r":return "M-20,-41H20V41H-20Z";
 case "h":return "M-20,-18H20L6,0L20,18H-20L-6,0Z";
 case "v":return "M-17,-16H17L0,16Z";}};
const mk=(id,col,kind)=>{const m=defs.append("marker").attr("id",id).attr("markerUnits","userSpaceOnUse").attr("orient","auto").attr("overflow","visible");
 if(kind=="a"){m.attr("markerWidth",24).attr("markerHeight",20).attr("refX",22).attr("refY",9);m.append("path").attr("d","M0,0L22,9L0,18Z").attr("fill",col);}
 else{m.attr("markerWidth",6).attr("markerHeight",20).attr("refX",3).attr("refY",9);m.append("path").attr("d","M3,0V18").attr("stroke",col).attr("stroke-width",1.6);}};
mk("arO",ORANGE,"a");mk("barO",ORANGE,"b");mk("barB",EDGEB,"b");mk("arG",GREY,"a");
function network(nodes,lists,sx,sy,labelSize){const g=svg.append("g");const idx=new Map(nodes.map(n=>[n[0],n]));
 const P=k=>{const n=idx.get(k);return [sx(n[2]),sy(n[3]),shapeR[n[4]]];};
 const edge=(str,sep,o)=>{g.selectAll(null).data(str).join("line").each(function(s){const [a,b]=s.split(sep).map(P);
   const dx=b[0]-a[0],dy_=b[1]-a[1],L=Math.hypot(dx,dy_)||1;const ux=dx/L,uy=dy_/L;
   const el=d3.select(this).attr("x1",a[0]+ux*(o.marker?a[2]*.6:0)).attr("y1",a[1]+uy*(o.marker?a[2]*.6:0)).attr("x2",b[0]-ux*(o.marker?b[2]:0)).attr("y2",b[1]-uy*(o.marker?b[2]:0)).attr("stroke",o.color).attr("stroke-width",o.w);
   if(o.dash)el.attr("stroke-dasharray",o.dash); if(o.marker)el.attr("marker-end",`url(#${o.marker})`);});};
 if(lists.dot)edge(lists.dot,"-",{color:"#777",w:2,dash:"2 6"});
 if(lists.grey)edge(lists.grey,">",{color:GREY,w:2.5,dash:"14 6"});
 edge(lists.dash,">",{color:ORANGE,w:3.2,dash:"20 7",marker:"arO"});
 edge(lists.solid,">",{color:ORANGE,w:3.4,marker:"arO"});
 edge(lists.bar,">",{color:ORANGE,w:3.2,dash:"20 7",marker:"barO"});
 edge(lists.blue,">",{color:EDGEB,w:3.2,dash:"20 7",marker:"barB"});
 g.selectAll(null).data(nodes).join("path").attr("d",d=>shapePath(d[4])).attr("transform",d=>`translate(${sx(d[2])},${sy(d[3])})`).attr("fill",d=>fills[d[5]]).attr("stroke",d=>d[5]==2?"#666":"none").attr("stroke-width",1.5);
 g.selectAll(null).data(nodes).join("text").attr("x",d=>sx(d[2])).attr("y",d=>sy(d[3])+8).attr("text-anchor","middle").attr("font-size",labelSize).text(d=>d[1]);
 return g;}
const cX=d3.scaleLinear([0,1568],[0,1800]),cY=d3.scaleLinear([0,1568],[1600,3200]);
const dX=d3.scaleLinear([0,1568],[1500,3529]),dY=d3.scaleLinear([0,1568],[1600,3500]);
network(cNodes,{solid:cSolid,dash:cDash,bar:cBar,blue:cBlue,grey:cGrey,dot:cDot},cX,cY,25.5);
network(dNodes,{solid:dSolid,dash:dDash,bar:dBar,blue:dBlue,dot:dDot},dX,dY,23.5);
txt(svg,851,1668,"WT CM + CDDO-Me vs Media Control",{size:58,weight:700,family:BOLD,anchor:"middle"});
txt(svg,2767,1668,"KEAP1 KO CM + CDDO-Me vs Media Control",{size:58,weight:700,family:BOLD,anchor:"middle"});
// legend box
const L=svg.append("g");
L.append("rect").attr("x",dX(13)).attr("y",dY(110)).attr("width",dX(326)-dX(13)).attr("height",dY(508)-dY(110)).attr("fill","#fff").attr("stroke","#666").attr("stroke-width",2);
L.append("rect").attr("x",dX(22)).attr("y",dY(95)).attr("width",dX(318)-dX(22)).attr("height",34).attr("fill","#fff");
const lt={size:30,family:LATO};
txt(L,dX(27),dY(110)+10,"Graphical Summary Legend",{size:31,family:LATO});
txt(L,dX(20),dY(178)+10,"Predicted Activity",lt);
legendPredicted.forEach((s,i)=>{const y=dY([213,257][i]);L.append("ellipse").attr("cx",dX(51)).attr("cy",y).attr("rx",29).attr("ry",18).attr("fill",[ORANGE,BLUE][i]);txt(L,dX(95),y+11,s,lt);});
txt(L,dX(20),dY(323)+10,"Relationships Between Nodes",lt);
legendRelations.forEach((s,i)=>{const y=dY([353,386,420,453,486][i]);
 L.append("line").attr("x1",dX(19)).attr("x2",dX(76)).attr("y1",y).attr("y2",y).attr("stroke",[ORANGE,"#0E6BE6","#777","#777","#777"][i]).attr("stroke-width",5).attr("stroke-dasharray",[null,null,"3 3","14 8",null][i]);
 txt(L,dX(85),y+13,s,lt);});

// ---- E ----
const E=svg.append("g");
const ex=d3.scaleLinear([1,6],[386,908]),ey=d3.scaleLinear([-2,4],[3723,3283]);
txt(E,646,3226,"Macrophage Polarization",{size:43,weight:700,anchor:"middle"});
E.append("line").attr("x1",327).attr("x2",970).attr("y1",ey(0)).attr("y2",ey(0)).attr("stroke","#222").attr("stroke-width",3).attr("stroke-dasharray","3 7");
const ya=E.append("g").attr("transform","translate(315,0)").call(d3.axisLeft(ey).tickValues([-2,0,2,4]).tickSize(20).tickPadding(5).tickFormat(d=>String(d).replace("-","\u2212")));
const xa=E.append("g").attr("transform",`translate(0,${ey(-2)})`).call(d3.axisBottom(ex).tickValues(eCategoryX).tickSize(20).tickFormat(""));
[ya,xa].forEach(a=>{a.selectAll(".domain,line").attr("stroke","#000").attr("stroke-width",5);a.select(".domain").attr("d",a===ya?`M0,${ey(4)}V${ey(-2)}`:`M315,0H981`);});
ya.selectAll("text").attr("font-size",33).attr("font-weight",700);
txt(E,235,3503,"Z-score",{size:31,weight:700,anchor:"middle",rot:-90,ls:2.5});
E.selectAll(null).data(classicalZ).join("circle").attr("cx",(d,i)=>ex(classicalX[i])).attr("cy",d=>ey(d)).attr("r",10).attr("fill","#0a0aee");
E.selectAll(null).data(alternativeZ).join("circle").attr("cx",(d,i)=>ex(alternativeX[i])).attr("cy",d=>ey(d)).attr("r",10).attr("fill","#f01010");
const rowY=d3.scalePoint(eTableRows,[3782,4014]);
eTableRows.forEach((r,ri)=>{txt(E,339,rowY(r)+12,r,{size:31,weight:700,anchor:"end"});
 eTableSigns[ri].split("").forEach((s,i)=>txt(E,ex(i+1),rowY(r)+(s=="+"?13:10),s=="+"?"+":"\u2013",{size:40,weight:700,anchor:"middle"}));});
eLegend.forEach((ls,i)=>{const y=[3391,3490][i];E.append("circle").attr("cx",1070).attr("cy",y).attr("r",10).attr("fill",["#0a0aee","#f01010"][i]);
 ls.forEach((s,j)=>txt(E,1119,y-10+j*41,s,{size:37}));});
</script></body></html>
